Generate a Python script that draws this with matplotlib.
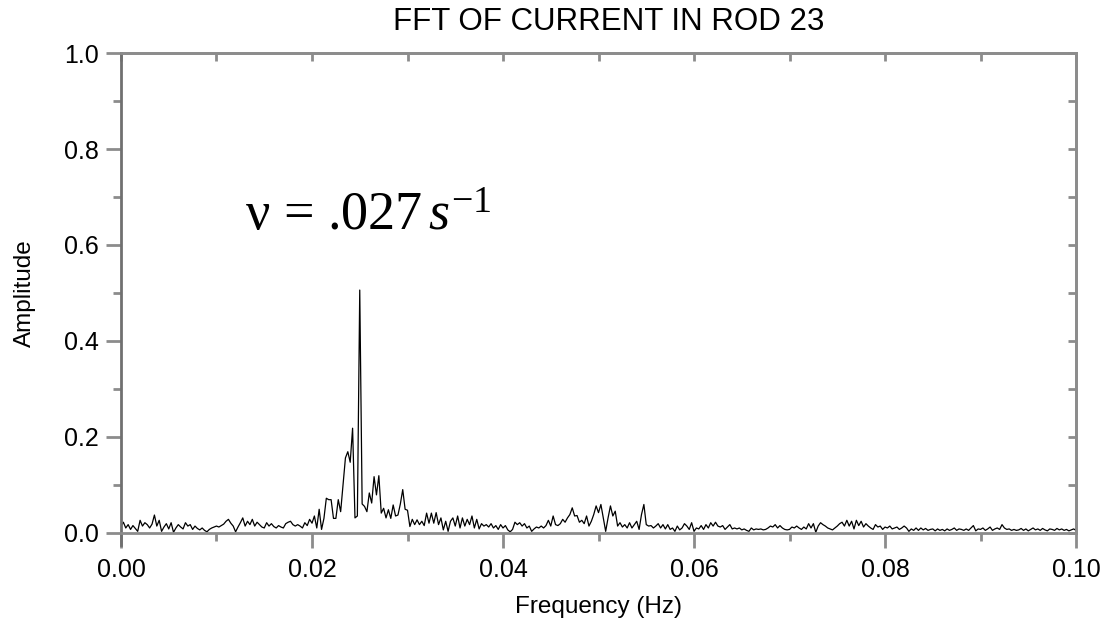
import matplotlib.pyplot as plt
import numpy as np
from matplotlib.ticker import MultipleLocator, FormatStrFormatter

plt.rcParams['font.family'] = ['Liberation Sans', 'DejaVu Sans']
# Times-like maths text for the annotation
plt.rcParams['mathtext.fontset'] = 'custom'
plt.rcParams['mathtext.rm'] = 'Liberation Serif'
plt.rcParams['mathtext.it'] = 'Liberation Serif:italic'

# FFT amplitude, in thousandths, one sample every 0.00025 Hz
amplitude_milli = [
    14, 22, 10, 17, 7, 15, 9, 3, 26, 14,
    21, 17, 10, 18, 37, 14, 26, 3, 12, 19,
    8, 21, 1, 10, 17, 12, 8, 21, 14, 17,
    7, 14, 9, 6, 10, 5, 2, 7, 10, 12,
    14, 12, 15, 18, 24, 28, 20, 14, 2, 12,
    21, 31, 14, 24, 17, 28, 14, 22, 17, 12,
    10, 21, 14, 19, 13, 10, 15, 12, 10, 19,
    22, 24, 17, 14, 17, 14, 10, 21, 15, 28,
    20, 35, 10, 49, 7, 30, 72, 69, 69, 30,
    30, 69, 44, 100, 156, 169, 147, 218, 31, 35,
    506, 60, 55, 44, 83, 62, 117, 79, 119, 41,
    51, 31, 48, 30, 58, 35, 37, 60, 90, 49,
    47, 13, 28, 17, 27, 17, 24, 15, 41, 20,
    41, 20, 42, 17, 31, 6, 24, 3, 24, 31,
    14, 35, 10, 31, 14, 28, 17, 35, 10, 28,
    8, 19, 14, 17, 12, 19, 10, 15, 7, 17,
    10, 15, 6, 2, 7, 22, 17, 21, 14, 19,
    10, 14, 3, 8, 12, 10, 14, 10, 15, 26,
    14, 35, 17, 15, 19, 28, 22, 31, 38, 52,
    35, 36, 22, 26, 19, 35, 14, 24, 38, 56,
    42, 59, 31, 3, 31, 56, 35, 45, 14, 21,
    12, 17, 10, 21, 10, 17, 24, 7, 38, 59,
    17, 14, 15, 10, 14, 19, 10, 17, 8, 17,
    7, 10, 3, 14, 6, 10, 19, 14, 7, 21,
    3, 10, 8, 15, 7, 17, 10, 21, 14, 22,
    14, 12, 15, 7, 12, 17, 8, 10, 8, 10,
    6, 8, 5, 3, 10, 6, 8, 7, 8, 6,
    7, 10, 14, 12, 17, 10, 15, 10, 7, 6,
    7, 12, 10, 14, 10, 7, 12, 8, 19, 10,
    19, 1, 14, 21, 17, 14, 10, 8, 6, 10,
    14, 19, 22, 14, 26, 14, 24, 8, 26, 15,
    24, 12, 19, 14, 10, 7, 17, 12, 14, 7,
    12, 10, 14, 8, 10, 12, 7, 10, 14, 10,
    3, 8, 5, 10, 5, 10, 6, 9, 5, 7,
    8, 4, 8, 5, 7, 4, 8, 5, 7, 10,
    5, 8, 7, 5, 8, 5, 10, 15, 4, 8,
    7, 10, 5, 8, 12, 5, 8, 10, 7, 17,
    10, 7, 8, 5, 7, 5, 6, 9, 5, 8,
    4, 7, 10, 6, 8, 5, 9, 6, 4, 8,
    7, 5, 9, 6, 8, 5, 7, 4, 6, 8,
    5,
]
freq_step = 0.00025

title = "FFT OF CURRENT IN ROD 23"
x_label = "Frequency (Hz)"
y_label = "Amplitude"
peak_label = 'ν = .027$\\,\\mathit{s}^{-1}$'

amplitude = np.array(amplitude_milli) / 1000.0
frequency = np.arange(len(amplitude)) * freq_step

spine_grey = '#8c8c8c'

fig = plt.figure(figsize=(11.1, 6.32), dpi=100)
ax = fig.add_axes([0.109, 0.157, 0.8604, 0.759])

ax.plot(frequency, amplitude, color='black', lw=0.9)
ax.set_xlim(0, 0.1)
ax.set_ylim(0, 1)

# bottom / left axes
ax.xaxis.set_major_locator(MultipleLocator(0.02))
ax.xaxis.set_minor_locator(MultipleLocator(0.01))
ax.xaxis.set_major_formatter(FormatStrFormatter('%.2f'))
ax.yaxis.set_major_locator(MultipleLocator(0.2))
ax.yaxis.set_minor_locator(MultipleLocator(0.1))
ax.yaxis.set_major_formatter(FormatStrFormatter('%.1f'))
ax.tick_params(which='both', direction='out', color=spine_grey, width=2,
               labelsize=18, top=False, right=False)
ax.tick_params(which='major', length=11)
ax.tick_params(which='minor', length=6)
ax.tick_params(axis='x', which='major', pad=7)
ax.tick_params(axis='y', which='major', pad=5)

for side in ['top', 'right', 'bottom']:
    ax.spines[side].set_color(spine_grey)
    ax.spines[side].set_linewidth(2)
ax.spines['left'].set_color('#707070')
ax.spines['left'].set_linewidth(2)
ax.spines['left'].set_bounds(-0.025, 1.0)

# inward ticks along the top and right edges
top = ax.secondary_xaxis('top')
top.set_xticks(np.arange(0, 0.1001, 0.01))
top.tick_params(direction='in', length=6, width=2, color=spine_grey, labeltop=False)
top.spines['top'].set_color(spine_grey)
top.spines['top'].set_linewidth(2)

right = ax.secondary_yaxis('right')
right.set_yticks(np.arange(0, 1.001, 0.1))
right.tick_params(direction='in', length=6, width=2, color=spine_grey, labelright=False)
right.spines['right'].set_color(spine_grey)
right.spines['right'].set_linewidth(2)

ax.text(0.013, 0.631, peak_label, fontsize=39, ha='left', va='baseline',
        family=['Liberation Serif', 'DejaVu Serif'])

fig.text(0.548, 1 - 22 / 632, title, fontsize=22.5, ha='center', va='center')
fig.text(0.539, 1 - 607 / 632, x_label, fontsize=17.5, ha='center', va='center')
fig.text(25 / 1110, 0.536, y_label, fontsize=17.5, ha='center', va='center', rotation=90)

fig.savefig('out.png', dpi=100)
